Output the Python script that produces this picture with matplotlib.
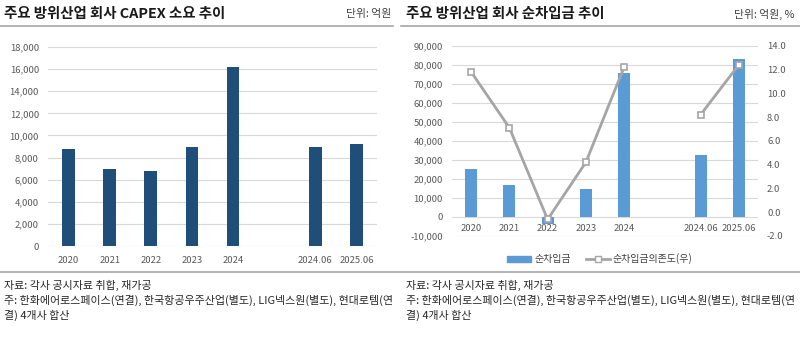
import matplotlib
matplotlib.use("Agg")
import matplotlib.pyplot as plt
import numpy as np
from matplotlib.lines import Line2D
from matplotlib.patches import Patch

plt.rcParams['font.family'] = ['Noto Sans CJK KR', 'DejaVu Sans']

# ---- data ----
categories = ["2020", "2021", "2022", "2023", "2024", "", "2024.06", "2025.06"]
capex = [8800, 7000, 6800, 8950, 16200, np.nan, 9000, 9200]
net_debt = [25000, 16600, -3900, 14700, 75800, np.nan, 32600, 83200]
debt_ratio = [11.8, 7.1, -0.6, 4.2, 12.2, np.nan, 8.2, 12.4]

left_title = "주요 방위산업 회사 CAPEX 소요 추이"
right_title = "주요 방위산업 회사 순차입금 추이"
left_unit = "단위: 억원"
right_unit = "단위: 억원, %"
src_line = "자료: 각사 공시자료 취합, 재가공"
note_line1 = "주: 한화에어로스페이스(연결), 한국항공우주산업(별도), LIG넥스원(별도), 현대로템(연"
note_line2 = "결) 4개사 합산"
legend_labels = ["순차입금", "순차입금의존도(우)"]

W, H = 800, 342
fig = plt.figure(figsize=(W / 100, H / 100), dpi=100)

def fx(px):
    return px / W

def fy(py):
    return 1 - py / H

tick_color = "#595959"
grid_color = "#d9d9d9"
tick_fs = 6.8

# ---- header / footer decorations ----
for (x0, x1) in [(0, 393), (401, 800)]:
    fig.add_artist(Line2D([fx(x0), fx(x1)], [fy(26), fy(26)], color="#a6a6a6", lw=1.2))
fig.add_artist(Line2D([0, 1], [fy(272), fy(272)], color="#a6a6a6", lw=1.2))

fig.text(fx(4), fy(14), left_title, fontsize=10.4, fontweight="bold", va="center", ha="left", color="#1a1a1a")
fig.text(fx(406), fy(14), right_title, fontsize=10.4, fontweight="bold", va="center", ha="left", color="#1a1a1a")
fig.text(fx(391), fy(14), left_unit, fontsize=7.8, va="center", ha="right", color="#404040")
fig.text(fx(794), fy(14), right_unit, fontsize=7.8, va="center", ha="right", color="#404040")

for x0 in (4, 406):
    fig.text(fx(x0), fy(285), src_line, fontsize=7.9, va="center", ha="left", color="#262626")
    fig.text(fx(x0), fy(300), note_line1, fontsize=7.9, va="center", ha="left", color="#262626")
    fig.text(fx(x0), fy(315), note_line2, fontsize=7.9, va="center", ha="left", color="#262626")

x = np.arange(len(categories))

# ---- left chart ----
axL = fig.add_axes([fx(48), fy(246), fx(377 - 48), fy(47) - fy(246)])
axL.bar(x, capex, width=0.31, color="#1f4e79")
axL.set_xlim(-0.5, 7.5)
axL.set_ylim(0, 18000)
axL.set_yticks(np.arange(0, 18001, 2000))
axL.set_yticklabels([f"{v:,}" for v in range(0, 18001, 2000)])
axL.set_xticks([i for i, c in enumerate(categories) if c])
axL.set_xticklabels([c for c in categories if c])
axL.tick_params(axis="both", length=0, labelsize=tick_fs, colors=tick_color)
axL.tick_params(axis="x", pad=7)
axL.tick_params(axis="y", pad=6.5)
axL.grid(axis="y", color=grid_color, lw=0.8)
axL.set_axisbelow(True)
for s in axL.spines.values():
    s.set_visible(False)

# ---- right chart ----
axR = fig.add_axes([fx(452), fy(236), fx(758 - 452), fy(45.7) - fy(236)])
axR.bar(x, net_debt, width=0.32, color="#5b9bd5", zorder=2)
axR.set_xlim(-0.5, 7.5)
axR.set_ylim(-10000, 90000)
axR.set_yticks(np.arange(-10000, 90001, 10000))
axR.set_yticklabels([f"{v:,}" for v in range(-10000, 90001, 10000)])
axR.set_xticks([])
axR.tick_params(axis="both", length=0, labelsize=tick_fs, colors=tick_color)
axR.tick_params(axis="y", pad=6.5)
axR.grid(axis="y", color=grid_color, lw=0.8)
axR.set_axisbelow(True)
for s in axR.spines.values():
    s.set_visible(False)
for i, c in enumerate(categories):
    if c:
        axR.annotate(c, xy=(i, 0), xytext=(0, -5), textcoords="offset points",
                     ha="center", va="top", fontsize=tick_fs, color=tick_color, zorder=5)

axR2 = axR.twinx()
axR2.plot(x, debt_ratio, color="#a5a5a5", lw=2, marker="s", markersize=5,
          markerfacecolor="white", markeredgecolor="#a5a5a5", markeredgewidth=1.2, zorder=4)
axR2.set_ylim(-2, 14)
axR2.set_yticks(np.arange(-2, 14.1, 2))
axR2.set_yticklabels([f"{v:.1f}" for v in np.arange(-2, 14.1, 2)])
axR2.tick_params(axis="y", length=0, labelsize=tick_fs, colors=tick_color, pad=6.5)
for s in axR2.spines.values():
    s.set_visible(False)

handles = [Patch(color="#5b9bd5"),
           Line2D([0], [0], color="#a5a5a5", lw=2, marker="s", markersize=5,
                  markerfacecolor="white", markeredgecolor="#a5a5a5")]
fig.legend(handles, legend_labels, loc="center", bbox_to_anchor=(fx(600), fy(259)),
           ncol=2, frameon=False, fontsize=7.2, handlelength=2.4, handleheight=0.5,
           columnspacing=1.5, handletextpad=0.3, labelcolor="#404040")

fig.savefig("out.png", dpi=100)
